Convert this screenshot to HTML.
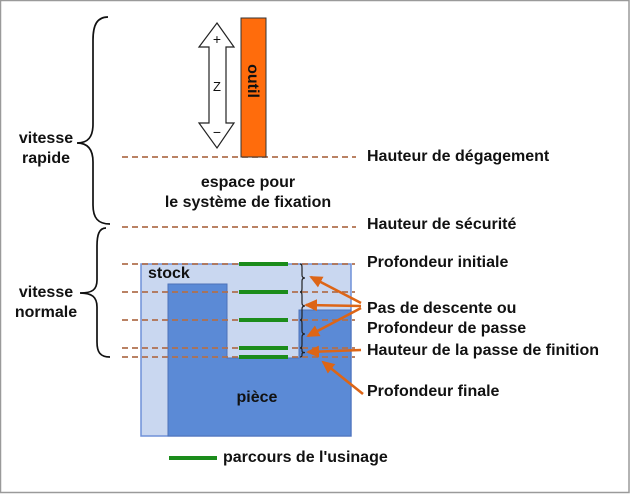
<!DOCTYPE html>
<html>
<head>
<meta charset="utf-8">
<style>
html,body{margin:0;padding:0;background:#fff;}
svg{display:block;}
text{font-family:"Liberation Sans",Arial,sans-serif;font-weight:bold;font-size:16px;fill:#111;}
</style>
</head>
<body>
<svg width="630" height="494" viewBox="0 0 630 494" xmlns="http://www.w3.org/2000/svg">
<defs>
<marker id="ah" markerWidth="13" markerHeight="12" refX="11" refY="6" orient="auto" markerUnits="userSpaceOnUse">
<path d="M0,0 L13,6 L0,12 Z" fill="#dd6516"/>
</marker>
</defs>
<rect x="0.5" y="0.5" width="628.5" height="492" fill="#fff" stroke="#9a9a9a" stroke-width="1.5"/>

<!-- big braces -->
<path d="M108,17 C97,17 93,25 93,40 L93,124 C93,137 88,143 77,143 C88,143 93,150 93,162 L93,205 C93,218 98,224 110,224" fill="none" stroke="#111" stroke-width="1.7"/>
<path d="M106,228 C99,228 97,235 97,246 L97,280 C97,290 92,293 80,293 C92,293 97,297 97,307 L97,342 C97,352 100,357 110,357" fill="none" stroke="#111" stroke-width="1.7"/>

<text x="46" y="143" text-anchor="middle">vitesse</text>
<text x="46" y="163" text-anchor="middle">rapide</text>
<text x="46" y="297" text-anchor="middle">vitesse</text>
<text x="46" y="317" text-anchor="middle">normale</text>

<!-- stock and piece -->
<rect x="141" y="264" width="210" height="172" fill="#c9d7f0" stroke="#6f90d8" stroke-width="1.5"/>
<path d="M168,284 L227,284 L227,358 L299,358 L299,310 L351,310 L351,436 L168,436 Z" fill="#5b8ad6" stroke="#4d72b8" stroke-width="1"/>

<!-- dashed lines -->
<g stroke="#b0704e" stroke-width="1.8" stroke-dasharray="6,4" fill="none">
<line x1="122" y1="157" x2="356" y2="157"/>
<line x1="122" y1="227" x2="356" y2="227"/>
<line x1="122" y1="264" x2="355" y2="264"/>
<line x1="122" y1="292" x2="355" y2="292"/>
<line x1="122" y1="320" x2="355" y2="320"/>
<line x1="122" y1="348" x2="355" y2="348"/>
<line x1="122" y1="357" x2="355" y2="357"/>
</g>

<!-- green passes -->
<g stroke="#1b8c1b" stroke-width="4">
<line x1="239" y1="264" x2="288" y2="264"/>
<line x1="239" y1="292" x2="288" y2="292"/>
<line x1="239" y1="320" x2="288" y2="320"/>
<line x1="239" y1="348" x2="288" y2="348"/>
<line x1="239" y1="357" x2="288" y2="357"/>
<line x1="169" y1="458" x2="217" y2="458"/>
</g>

<!-- small braces -->
<g fill="none" stroke="#222" stroke-width="1.2">
<path d="M300,264 C302,264 302,266 302,268 L302,275 C302,277 303,278 305,278 C303,278 302,279 302,281 L302,288 C302,290 302,292 300,292"/>
<path d="M300,292 C302,292 302,294 302,296 L302,303 C302,305 303,306 305,306 C303,306 302,307 302,309 L302,316 C302,318 302,320 300,320"/>
<path d="M300,320 C302,320 302,322 302,324 L302,331 C302,333 303,334 305,334 C303,334 302,335 302,337 L302,344 C302,346 302,348 300,348"/>
<path d="M300,348 C302,348 302,349 302,350 L302,351 C302,352 303,352.5 305,352.5 C303,352.5 302,353 302,354 L302,355 C302,356 302,357 300,357"/>
</g>

<!-- orange arrows -->
<g stroke="#dd6516" stroke-width="2.6" marker-end="url(#ah)">
<line x1="361" y1="303" x2="311" y2="277"/>
<line x1="361" y1="306" x2="306" y2="305"/>
<line x1="361" y1="308" x2="308" y2="336"/>
<line x1="361" y1="350" x2="308" y2="352"/>
<line x1="363" y1="394" x2="323" y2="362"/>
</g>

<!-- Z arrow -->
<path d="M217,23 L234,47 L226,47 L226,123 L234,123 L217,148 L199,123 L209,123 L209,47 L199,47 Z" fill="#fff" stroke="#222" stroke-width="1.2"/>
<text x="217" y="44" text-anchor="middle" style="font-weight:normal;font-size:14px">+</text>
<text x="217" y="91" text-anchor="middle" style="font-weight:normal;font-size:13px">Z</text>
<text x="217" y="137" text-anchor="middle" style="font-weight:normal;font-size:14px">−</text>

<!-- tool -->
<rect x="241" y="18" width="25" height="139" fill="#ff6c0c" stroke="#333" stroke-width="1"/>
<text x="0" y="0" text-anchor="middle" transform="translate(248,81) rotate(90)">outil</text>

<text x="248" y="187" text-anchor="middle">espace pour</text>
<text x="248" y="207" text-anchor="middle">le système de fixation</text>

<text x="148" y="278">stock</text>
<text x="257" y="402" text-anchor="middle">pièce</text>

<text x="367" y="161">Hauteur de dégagement</text>
<text x="367" y="229">Hauteur de sécurité</text>
<text x="367" y="267">Profondeur initiale</text>
<text x="367" y="313">Pas de descente ou</text>
<text x="367" y="333">Profondeur de passe</text>
<text x="367" y="355">Hauteur de la passe de finition</text>
<text x="367" y="396">Profondeur finale</text>

<text x="223" y="462">parcours de l'usinage</text>
</svg>
</body>
</html>
